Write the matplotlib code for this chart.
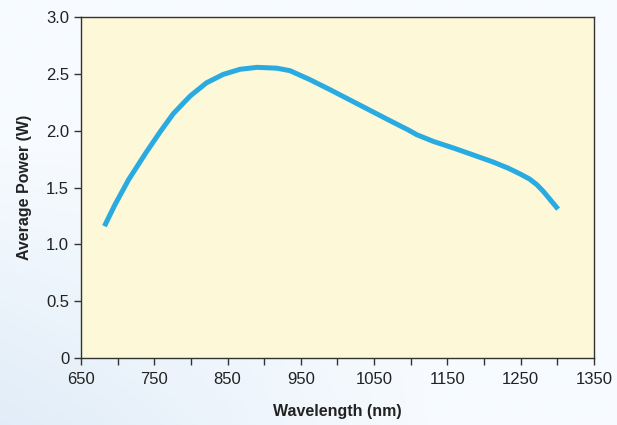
import numpy as np
import matplotlib.pyplot as plt
from matplotlib.ticker import FixedLocator, FuncFormatter

# Values
wavelength = [682, 696, 715, 739, 758, 776, 799, 821, 844, 867, 890, 917, 935,
              962, 990, 1017, 1044, 1071, 1097, 1108, 1131, 1158, 1185, 1212,
              1233, 1249, 1262, 1272, 1281, 1290, 1301]
power = [1.16, 1.345, 1.57, 1.81, 1.99, 2.15, 2.305, 2.42, 2.495, 2.54, 2.557, 2.55, 2.528,
         2.45, 2.36, 2.27, 2.18, 2.09, 2.005, 1.965, 1.905, 1.848, 1.787, 1.725,
         1.67, 1.62, 1.575, 1.525, 1.465, 1.395, 1.31]

x_major = [650, 750, 850, 950, 1050, 1150, 1250, 1350]
x_all = list(range(650, 1351, 50))
y_ticks = [0, 0.5, 1.0, 1.5, 2.0, 2.5, 3.0]

plt.rcParams['font.family'] = ['Liberation Sans Narrow', 'Liberation Sans', 'DejaVu Sans']

fig = plt.figure(figsize=(6.17, 4.25), dpi=100)
fig.patch.set_facecolor('white')

# faint bluish wash behind the chart, like the reference
bg = fig.add_axes([0, 0, 1, 1], zorder=-1)
gx, gy = np.meshgrid(np.linspace(0, 1, 200), np.linspace(0, 1, 200))
wash = np.clip(1 - gx * 1.4, 0, 1) * np.clip(1 - gy * 1.5, 0, 1) * 0.9
bg.imshow(wash, extent=[0, 1, 0, 1], cmap='Blues', vmin=0, vmax=8, aspect='auto', origin='lower')
bg.axis('off')

ax = fig.add_axes([0.1313, 0.1576, 0.8314, 0.8024])
ax.set_facecolor('#fcf8d8')
ax.plot(wavelength, power, color='#29abe2', lw=3.6, solid_capstyle='butt', solid_joinstyle='round')

ax.set_xlim(650, 1350)
ax.set_ylim(0, 3.0)
ax.xaxis.set_major_locator(FixedLocator(x_all))
ax.xaxis.set_major_formatter(FuncFormatter(lambda v, p: f"{int(v)}" if int(v) in x_major else ""))
ax.set_yticks(y_ticks)
ax.yaxis.set_major_formatter(FuncFormatter(lambda v, p: "0" if v == 0 else f"{v:.1f}"))

for s in ax.spines.values():
    s.set_color('#333333')
    s.set_linewidth(1.0)
ax.tick_params(direction='out', length=5, width=1, color='#333333', labelsize=12, labelcolor='#222222')
ax.tick_params(axis='x', pad=5)

ax.set_xlabel('Wavelength (nm)', fontsize=11.5, fontweight='bold', labelpad=12, color='#222222')
ax.set_ylabel('Average Power (W)', fontsize=11.5, fontweight='bold', labelpad=10, color='#222222')

fig.savefig('out.png', dpi=100)
